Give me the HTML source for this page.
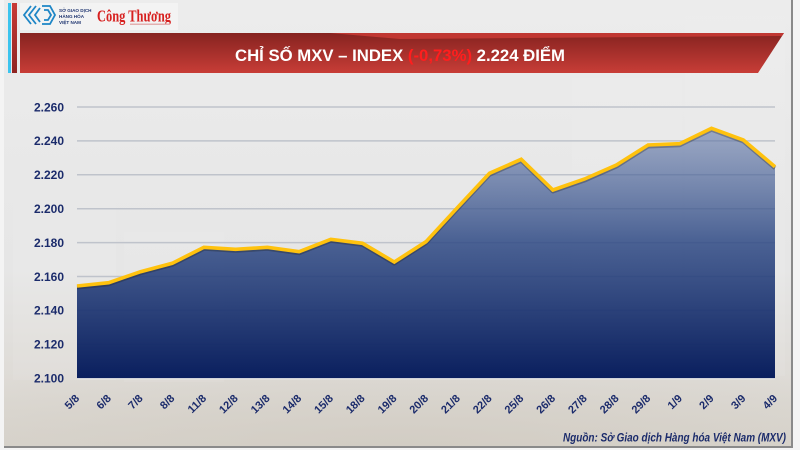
<!DOCTYPE html>
<html>
<head>
<meta charset="utf-8">
<style>
  html,body{margin:0;padding:0;background:#ffffff;}
  svg{display:block;}
</style>
</head>
<body>
<svg width="800" height="450" viewBox="0 0 800 450" xmlns="http://www.w3.org/2000/svg">
  <defs>
    <linearGradient id="bg" x1="0" y1="0" x2="0" y2="1">
      <stop offset="0" stop-color="#ececec"/>
      <stop offset="0.6" stop-color="#e6e6e6"/>
      <stop offset="0.85" stop-color="#dedbd6"/>
      <stop offset="1" stop-color="#d9d5ce"/>
    </linearGradient>
    <linearGradient id="banner" x1="0" y1="0" x2="0" y2="1">
      <stop offset="0" stop-color="#862320"/>
      <stop offset="1" stop-color="#c83d37"/>
    </linearGradient>
    <linearGradient id="redbar" x1="0" y1="0" x2="0" y2="1">
      <stop offset="0" stop-color="#c83a36"/>
      <stop offset="1" stop-color="#8e2522"/>
    </linearGradient>
    <linearGradient id="area" gradientUnits="userSpaceOnUse" x1="0" y1="128" x2="0" y2="378">
      <stop offset="0" stop-color="#5d74a6" stop-opacity="0.55"/>
      <stop offset="0.45" stop-color="#2f4a85" stop-opacity="0.85"/>
      <stop offset="1" stop-color="#0a1f5e" stop-opacity="1"/>
    </linearGradient>
    <radialGradient id="photo" cx="0.5" cy="1" r="0.8">
      <stop offset="0" stop-color="#cfc9bf" stop-opacity="0.7"/>
      <stop offset="1" stop-color="#cfc9bf" stop-opacity="0"/>
    </radialGradient>
  </defs>

  <!-- frame -->
  <rect x="0" y="0" width="800" height="450" fill="#f4f4f4"/>
  <rect x="4" y="0" width="788" height="447" fill="url(#bg)"/>
  <rect x="4" y="330" width="788" height="117" fill="url(#photo)"/>
  <!-- faint background shapes -->
  <rect x="13" y="200" width="103" height="180" fill="#ffffff" opacity="0.08"/>
  <rect x="124" y="232" width="100" height="150" fill="#ffffff" opacity="0.07"/>
  <rect x="572" y="78" width="110" height="300" fill="#ffffff" opacity="0.08"/>
  <rect x="685" y="16" width="100" height="360" fill="#ffffff" opacity="0.08"/>
  <line x1="792" y1="0" x2="792" y2="447" stroke="#8a8a8a" stroke-width="2"/>
  <line x1="4" y1="447" x2="793" y2="447" stroke="#8a8a8a" stroke-width="2"/>

  <!-- left bars -->
  <rect x="8" y="3" width="3" height="70" fill="#3cc4ee"/>
  <rect x="12" y="3" width="5" height="70" fill="url(#redbar)"/>

  <!-- logo box -->
  <rect x="20" y="3" width="158" height="27" fill="#f3f3f3"/>
  <g fill="none" stroke="#1e86c6" stroke-width="1.8">
    <polyline points="31,6 24,15 31,24"/>
    <polyline points="36,6 29,15 36,24"/>
    <polyline points="40,8 35,15 40,22"/>
    <polyline points="42,6 50,6 55,15 50,24 42,24"/>
    <polyline points="44,10 48,10 51,15 48,20 44,20"/>
  </g>
  <g font-family="Liberation Sans, sans-serif" font-weight="bold" font-size="4.6" fill="#1f3570">
    <text x="59" y="12">SỞ GIAO DỊCH</text>
    <text x="59" y="18">HÀNG HÓA</text>
    <text x="59" y="24">VIỆT NAM</text>
  </g>
  <text x="97" y="21.5" font-family="Liberation Serif, serif" font-weight="bold" font-size="17" fill="#d7201f" textLength="74" lengthAdjust="spacingAndGlyphs">Công Thương</text>
  <rect x="130" y="23.5" width="40" height="1.5" fill="#e3b0b0"/>

  <!-- banner -->
  <polygon points="20,33 784,33 758,73 20,73" fill="url(#banner)"/>
  <polygon points="330,33 784,33 782,36 400,39" fill="#c63a34" opacity="0.9"/>
  <text x="400" y="61" text-anchor="middle" font-family="Liberation Sans, sans-serif" font-weight="bold" font-size="17" fill="#ffffff" textLength="330" lengthAdjust="spacingAndGlyphs">CHỈ SỐ MXV – INDEX <tspan fill="#ff1e1e">(-0,73%)</tspan> 2.224 ĐIỂM</text>

  <!-- gridlines -->
  <g stroke="#bfc3cb" stroke-width="1.5">
    <line x1="77" y1="107" x2="775" y2="107"/>
    <line x1="77" y1="140.9" x2="775" y2="140.9"/>
    <line x1="77" y1="174.8" x2="775" y2="174.8"/>
    <line x1="77" y1="208.7" x2="775" y2="208.7"/>
    <line x1="77" y1="242.6" x2="775" y2="242.6"/>
    <line x1="77" y1="276.5" x2="775" y2="276.5"/>
    <line x1="77" y1="310.4" x2="775" y2="310.4"/>
    <line x1="77" y1="344.3" x2="775" y2="344.3"/>
  </g>

  <!-- y labels -->
  <g font-family="Liberation Sans, sans-serif" font-weight="bold" font-size="12" fill="#1b2b6b" text-anchor="end">
    <text x="64" y="111.3">2.260</text>
    <text x="64" y="145.2">2.240</text>
    <text x="64" y="179.1">2.220</text>
    <text x="64" y="213">2.200</text>
    <text x="64" y="246.9">2.180</text>
    <text x="64" y="280.8">2.160</text>
    <text x="64" y="314.7">2.140</text>
    <text x="64" y="348.6">2.120</text>
    <text x="64" y="382.6">2.100</text>
  </g>

  <!-- area -->
  <polygon fill="url(#area)" points="77,378.3 77,286 108.7,282.7 140.5,271.7 172.2,263.3 203.9,247.3 235.6,249.3 267.4,247.3 299.1,251.7 330.8,239.3 362.5,243.3 394.3,262 426,241.7 457.7,207.3 489.5,173.3 521.2,159.3 552.9,190 584.6,179 616.4,165 648.1,145 679.8,143.7 711.5,128.3 743.3,140 775,166.7 775,378.3"/>
  <line x1="77" y1="378.8" x2="775" y2="378.8" stroke="#f0f0f0" stroke-width="1"/>

  <!-- line -->
  <polyline fill="none" stroke="#1a1a1a" stroke-opacity="0.3" stroke-width="4" stroke-linejoin="round" transform="translate(0,1.5)" points="77,286 108.7,282.7 140.5,271.7 172.2,263.3 203.9,247.3 235.6,249.3 267.4,247.3 299.1,251.7 330.8,239.3 362.5,243.3 394.3,262 426,241.7 457.7,207.3 489.5,173.3 521.2,159.3 552.9,190 584.6,179 616.4,165 648.1,145 679.8,143.7 711.5,128.3 743.3,140 775,166.7"/>
  <polyline fill="none" stroke="#ffc20e" stroke-width="3.6" stroke-linejoin="miter" points="77,286 108.7,282.7 140.5,271.7 172.2,263.3 203.9,247.3 235.6,249.3 267.4,247.3 299.1,251.7 330.8,239.3 362.5,243.3 394.3,262 426,241.7 457.7,207.3 489.5,173.3 521.2,159.3 552.9,190 584.6,179 616.4,165 648.1,145 679.8,143.7 711.5,128.3 743.3,140 775,166.7"/>

  <!-- x labels -->
  <g font-family="Liberation Sans, sans-serif" font-weight="bold" font-size="11" fill="#1b2b6b" text-anchor="end">
    <text transform="translate(80,399) rotate(-45)">5/8</text>
    <text transform="translate(111.7,399) rotate(-45)">6/8</text>
    <text transform="translate(143.5,399) rotate(-45)">7/8</text>
    <text transform="translate(175.2,399) rotate(-45)">8/8</text>
    <text transform="translate(206.9,399) rotate(-45)">11/8</text>
    <text transform="translate(238.6,399) rotate(-45)">12/8</text>
    <text transform="translate(270.4,399) rotate(-45)">13/8</text>
    <text transform="translate(302.1,399) rotate(-45)">14/8</text>
    <text transform="translate(333.8,399) rotate(-45)">15/8</text>
    <text transform="translate(365.5,399) rotate(-45)">18/8</text>
    <text transform="translate(397.3,399) rotate(-45)">19/8</text>
    <text transform="translate(429,399) rotate(-45)">20/8</text>
    <text transform="translate(460.7,399) rotate(-45)">21/8</text>
    <text transform="translate(492.5,399) rotate(-45)">22/8</text>
    <text transform="translate(524.2,399) rotate(-45)">25/8</text>
    <text transform="translate(555.9,399) rotate(-45)">26/8</text>
    <text transform="translate(587.6,399) rotate(-45)">27/8</text>
    <text transform="translate(619.4,399) rotate(-45)">28/8</text>
    <text transform="translate(651.1,399) rotate(-45)">29/8</text>
    <text transform="translate(682.8,399) rotate(-45)">1/9</text>
    <text transform="translate(714.5,399) rotate(-45)">2/9</text>
    <text transform="translate(746.3,399) rotate(-45)">3/9</text>
    <text transform="translate(778,399) rotate(-45)">4/9</text>
  </g>

  <!-- source -->
  <text x="786" y="441.5" text-anchor="end" font-family="Liberation Sans, sans-serif" font-weight="bold" font-style="italic" font-size="11.5" fill="#1b2b6b" textLength="223" lengthAdjust="spacingAndGlyphs">Nguồn: Sở Giao dịch Hàng hóa Việt Nam (MXV)</text>
</svg>
</body>
</html>
